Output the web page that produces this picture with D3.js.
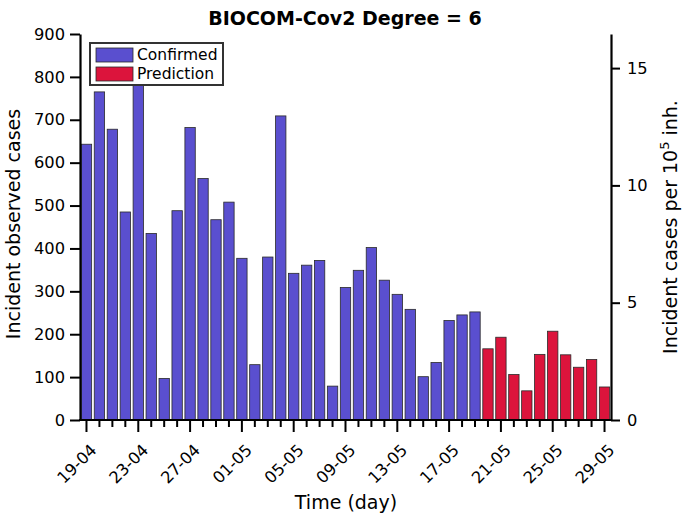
<!DOCTYPE html>
<html><head><meta charset="utf-8">
<script src="https://cdn.jsdelivr.net/npm/d3@7"></script>
<style>body{margin:0;background:#fff}svg{display:block;font-family:"DejaVu Sans",sans-serif}</style>
</head><body><svg id="c" width="682" height="518"></svg>
<script>
const dates = ["19-04","20-04","21-04","22-04","23-04","24-04","25-04","26-04","27-04","28-04","29-04","30-04",
"01-05","02-05","03-05","04-05","05-05","06-05","07-05","08-05","09-05","10-05","11-05","12-05","13-05","14-05",
"15-05","16-05","17-05","18-05","19-05","20-05","21-05","22-05","23-05","24-05","25-05","26-05","27-05","28-05","29-05"];
const confirmed = [643,765,678,485,800,435,97,488,682,563,467,508,377,129,380,709,342,361,372,79,309,349,402,326,293,258,101,134,232,245,252];
const prediction = [166,193,106,68,153,207,152,123,141,77];
const leftTicks = [0,100,200,300,400,500,600,700,800,900];
const rightTicks = [0,5,10,15];
const casesPer1e5Factor = 54.7; // observed cases per 1 case/1e5 inh.

const svg = d3.select("#c");
const L=80,R=611,T=34,B=420;
const x = d3.scaleBand().domain(dates).range([L,R]).paddingInner(0.2).paddingOuter(0.1);
const y = d3.scaleLinear().domain([0,900]).range([B,T]);
const y2 = d3.scaleLinear().domain([0,900/casesPer1e5Factor]).range([B,T]);

const data = confirmed.map((v,i)=>({d:dates[i],v,t:"c"}))
  .concat(prediction.map((v,i)=>({d:dates[confirmed.length+i],v,t:"p"})));
const col = {c:"#5a4fcf",p:"#dc143c"};

svg.append("g").selectAll("rect").data(data).join("rect")
  .attr("x",d=>x(d.d)).attr("width",x.bandwidth())
  .attr("y",d=>y(d.v)).attr("height",d=>B-y(d.v))
  .attr("fill",d=>col[d.t]).attr("stroke","#2a2a2a").attr("stroke-width",0.8);

// left axis
const ga = svg.append("g").attr("transform",`translate(${L},0)`)
  .call(d3.axisLeft(y).tickValues(leftTicks).tickSize(10).tickSizeOuter(0).tickPadding(5));
ga.select(".domain").attr("stroke-width",2.2);
ga.selectAll(".tick line").attr("stroke-width",2);
ga.selectAll("text").attr("font-size",16.3).attr("font-family","DejaVu Sans");

// right axis
const gr = svg.append("g").attr("transform",`translate(${R},0)`)
  .call(d3.axisRight(y2).tickValues(rightTicks).tickSize(9).tickSizeOuter(0).tickPadding(7));
gr.select(".domain").attr("stroke-width",2.2);
gr.selectAll(".tick line").attr("stroke-width",2);
gr.selectAll("text").attr("font-size",16.3).attr("font-family","DejaVu Sans");

// x axis
const gx = svg.append("g").attr("transform",`translate(0,${B})`);
gx.append("line").attr("x1",L-1).attr("x2",R+1).attr("stroke","#000").attr("stroke-width",2.2);
dates.forEach((d,i)=>{
  const cx = x(d)+x.bandwidth()/2;
  const major = i%4===0;
  gx.append("line").attr("x1",cx).attr("x2",cx).attr("y1",0).attr("y2",major?12:7)
    .attr("stroke","#000").attr("stroke-width",2);
  if(major){
    gx.append("text").attr("transform",`translate(${cx+3},${23}) rotate(-45)`)
      .attr("text-anchor","end").attr("font-size",16.3).attr("dy","0.7em").text(d);
  }
});

// title & labels
svg.append("text").attr("x",345).attr("y",25).attr("text-anchor","middle")
  .attr("font-size",19).attr("font-weight","bold").text("BIOCOM-Cov2 Degree = 6");
svg.append("text").attr("x",346).attr("y",509).attr("text-anchor","middle")
  .attr("font-size",19).text("Time (day)");
svg.append("text").attr("transform",`translate(20,224) rotate(-90)`).attr("text-anchor","middle")
  .attr("font-size",19).text("Incident observed cases");
const rl = svg.append("text").attr("transform",`translate(677,227) rotate(-90)`).attr("text-anchor","middle")
  .attr("font-size",19);
rl.append("tspan").text("Incident cases per 10");
rl.append("tspan").attr("dy",-8).attr("font-size",13).text("5");
rl.append("tspan").attr("dy",8).text(" inh.");

// legend
const lg = svg.append("g");
lg.append("rect").attr("x",90).attr("y",43).attr("width",133).attr("height",42)
  .attr("fill","#fff").attr("stroke","#333").attr("stroke-width",2);
[["Confirmed","c"],["Prediction","p"]].forEach(([t,k],i)=>{
  lg.append("rect").attr("x",96).attr("y",48+i*19).attr("width",37).attr("height",14)
    .attr("fill",col[k]).attr("stroke","#2a2a2a").attr("stroke-width",0.8);
  lg.append("text").attr("x",137).attr("y",60+i*19).attr("font-size",15.5).text(t);
});
</script></body></html>
